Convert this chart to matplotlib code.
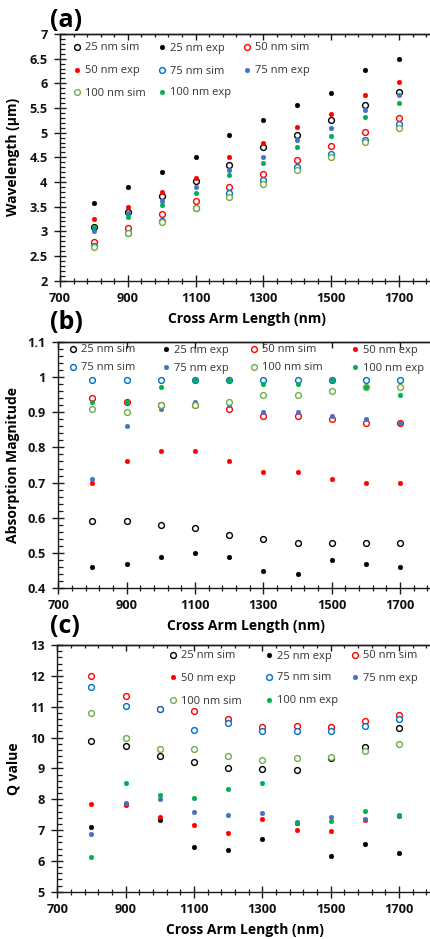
import matplotlib
matplotlib.use("Agg")
import matplotlib.pyplot as plt
from matplotlib.legend import Legend
from matplotlib.ticker import MultipleLocator, FixedLocator, NullFormatter, FuncFormatter

plt.rcParams['font.family'] = ['Open Sans', 'DejaVu Sans']

# Cross arm lengths (nm)
arm_length = [800, 900, 1000, 1100, 1200, 1300, 1400, 1500, 1600, 1700]

# (a) resonance wavelength (um)
wl_25_sim = [3.09, 3.39, 3.72, 4.03, 4.35, 4.70, 4.96, 5.26, 5.56, 5.83]
wl_25_exp = [3.58, 3.89, 4.20, 4.50, 4.96, 5.25, 5.57, 5.81, 6.27, 6.50]
wl_50_sim = [2.79, 3.06, 3.35, 3.62, 3.89, 4.16, 4.45, 4.72, 5.01, 5.29]
wl_50_exp = [3.25, 3.49, 3.80, 4.09, 4.51, 4.80, 5.11, 5.38, 5.76, 6.03]
wl_75_sim = [2.70, 2.96, 3.21, 3.48, 3.78, 4.05, 4.30, 4.57, 4.85, 5.17]
wl_75_exp = [3.01, 3.37, 3.62, 3.89, 4.24, 4.51, 4.85, 5.09, 5.46, 5.77]
wl_100_sim = [2.69, 2.96, 3.19, 3.48, 3.70, 3.97, 4.25, 4.50, 4.81, 5.09]
wl_100_exp = [3.09, 3.30, 3.53, 3.78, 4.14, 4.39, 4.71, 4.93, 5.32, 5.60]

# (b) absorption magnitude
ab_25_sim = [0.59, 0.59, 0.58, 0.57, 0.55, 0.54, 0.53, 0.53, 0.53, 0.53]
ab_25_exp = [0.46, 0.47, 0.49, 0.50, 0.49, 0.45, 0.44, 0.48, 0.47, 0.46]
ab_50_sim = [0.94, 0.93, 0.92, 0.92, 0.91, 0.89, 0.89, 0.88, 0.87, 0.87]
ab_50_exp = [0.70, 0.76, 0.79, 0.79, 0.76, 0.73, 0.73, 0.71, 0.70, 0.70]
ab_75_sim = [0.99, 0.99, 0.99, 0.99, 0.99, 0.99, 0.99, 0.99, 0.99, 0.99]
ab_75_exp = [0.71, 0.86, 0.91, 0.93, 0.92, 0.90, 0.90, 0.89, 0.88, 0.87]
ab_100_sim = [0.91, 0.90, 0.92, 0.92, 0.93, 0.95, 0.95, 0.96, 0.97, 0.97]
ab_100_exp = [0.93, 0.93, 0.97, 0.99, 0.99, 0.98, 0.98, 0.99, 0.97, 0.95]

# (c) quality factor
q_25_sim = [9.90, 9.74, 9.41, 9.19, 9.00, 8.97, 8.96, 9.35, 9.70, 10.30]
q_25_exp = [7.09, 7.85, 7.32, 6.46, 6.34, 6.71, 7.22, 6.17, 6.54, 6.27]
q_50_sim = [12.00, 11.35, 10.91, 10.87, 10.60, 10.35, 10.36, 10.35, 10.55, 10.74]
q_50_exp = [7.83, 7.82, 7.41, 7.15, 6.89, 7.37, 7.00, 6.97, 7.32, 7.45]
q_75_sim = [11.65, 11.03, 10.91, 10.24, 10.47, 10.20, 10.20, 10.20, 10.38, 10.60]
q_75_exp = [6.88, 7.89, 8.00, 7.59, 7.48, 7.55, 7.26, 7.43, 7.37, 7.48]
q_100_sim = [10.80, 9.97, 9.64, 9.64, 9.41, 9.27, 9.32, 9.36, 9.55, 9.80]
q_100_exp = [6.14, 8.51, 8.15, 8.05, 8.32, 8.54, 7.24, 7.29, 7.63, 7.46]

thicknesses = ["25", "50", "75", "100"]
sim_colors = ["#000000", "#FF0000", "#0070C0", "#70AD47"]
exp_colors = ["#000000", "#FF0000", "#4472C4", "#00B050"]

W, H = 430, 939


def fx(px):
    return px / W


def fy(py):
    return 1 - py / H


panels = [
    dict(tag="(a)", tag_y=8, ylabel="Wavelength (\u03bcm)", ylim=(2, 7), major=0.5, minor=0.1,
         sim=[wl_25_sim, wl_50_sim, wl_75_sim, wl_100_sim],
         exp=[wl_25_exp, wl_50_exp, wl_75_exp, wl_100_exp],
         box=(60, 34, 432.9, 280.7),
         leg_cols=[77, 162, 247], leg_rows=[48, 71, 93], top_minor=True),
    dict(tag="(b)", tag_y=310, ylabel="Absorption Magnitude", ylim=(0.4, 1.1), major=0.1, minor=0.02,
         sim=[ab_25_sim, ab_50_sim, ab_75_sim, ab_100_sim],
         exp=[ab_25_exp, ab_50_exp, ab_75_exp, ab_100_exp],
         box=(58.3, 341.7, 434.2, 588.3),
         leg_cols=[73, 166, 254, 355], leg_rows=[350, 368], top_minor=False),
    dict(tag="(c)", tag_y=614, ylabel="Q value", ylim=(5, 13), major=1, minor=0.2,
         sim=[q_25_sim, q_50_sim, q_75_sim, q_100_sim],
         exp=[q_25_exp, q_50_exp, q_75_exp, q_100_exp],
         box=(57.3, 645, 433.2, 891.7),
         leg_cols=[173, 269, 355], leg_rows=[656, 678, 701], top_minor=True),
]


def y_fmt(v, pos):
    v = round(v, 3)
    if abs(v - round(v)) < 1e-9:
        return f"{int(round(v))}"
    return f"{v:g}"


fig = plt.figure(figsize=(W / 100, H / 100), dpi=100)
axis_color = "#1a1a1a"
leg_fs = 8.0
handle_len = 0.7

for p in panels:
    x0, y0, x1, y1 = p["box"]
    ax = fig.add_axes([fx(x0), fy(y1), (x1 - x0) / W, (y1 - y0) / H])
    handles = []
    labels = []
    for t, s_vals, e_vals, sc, ec in zip(thicknesses, p["sim"], p["exp"], sim_colors, exp_colors):
        hs, = ax.plot(arm_length, s_vals, linestyle="none", marker="o", markersize=4.2,
                      markerfacecolor="white", markeredgecolor=sc, markeredgewidth=1.0)
        he, = ax.plot(arm_length, e_vals, linestyle="none", marker="o", markersize=3.4,
                      markerfacecolor=ec, markeredgecolor=ec, markeredgewidth=0.3)
        handles += [hs, he]
        labels += [f"{t} nm sim", f"{t} nm exp"]

    ax.set_xlim(700, 1800)
    ax.set_ylim(*p["ylim"])

    ax.spines["right"].set_visible(False)
    for side in ("left", "bottom", "top"):
        ax.spines[side].set_color(axis_color)
        ax.spines[side].set_linewidth(1.0)

    ax.xaxis.set_major_locator(MultipleLocator(200, offset=100))
    ax.xaxis.set_minor_locator(MultipleLocator(40, offset=20))
    ax.yaxis.set_major_locator(MultipleLocator(p["major"]))
    ax.yaxis.set_minor_locator(MultipleLocator(p["minor"]))
    ax.yaxis.set_major_formatter(FuncFormatter(y_fmt))

    ax.tick_params(axis="both", which="major", direction="inout", length=8, width=1.0,
                   color=axis_color, labelsize=9.2, labelcolor="#111111")
    ax.tick_params(axis="x", which="minor", direction="inout", length=4, width=0.9, color=axis_color)
    ax.tick_params(axis="y", which="minor", direction="in", length=3.5, width=0.9, color=axis_color)
    ax.tick_params(axis="x", which="major", pad=4)
    ax.tick_params(axis="y", which="major", pad=5)
    for lab in ax.get_xticklabels() + ax.get_yticklabels():
        lab.set_fontweight("bold")

    top = ax.secondary_xaxis("top")
    top.xaxis.set_major_locator(MultipleLocator(200, offset=100))
    if p["top_minor"]:
        top.xaxis.set_minor_locator(MultipleLocator(40, offset=20))
    else:
        top.xaxis.set_minor_locator(FixedLocator([]))
    top.tick_params(which="major", direction="in", length=4, width=1.0, color=axis_color,
                    labeltop=False)
    top.tick_params(which="minor", direction="in", length=2.5, width=0.9, color=axis_color)
    top.xaxis.set_major_formatter(NullFormatter())
    top.spines["top"].set_color(axis_color)
    top.spines["top"].set_linewidth(1.0)

    ax.set_xlabel("Cross Arm Length (nm)", fontsize=10, fontweight="bold", labelpad=5)
    ax.set_ylabel(p["ylabel"], fontsize=10, fontweight="bold")
    ax.yaxis.set_label_coords(fx(20), (fy(y0) + fy(y1)) / 2, transform=fig.transFigure)

    # legend entries laid out row by row on a fixed grid
    ncol = len(p["leg_cols"])
    handle_half_px = handle_len * leg_fs * 100 / 72 / 2
    for i, (h, lab) in enumerate(zip(handles, labels)):
        r, c = divmod(i, ncol)
        leg = Legend(ax, [h], [lab], loc="center left",
                     bbox_to_anchor=(fx(p["leg_cols"][c] - handle_half_px), fy(p["leg_rows"][r])),
                     bbox_transform=fig.transFigure, frameon=False, fontsize=leg_fs,
                     handlelength=handle_len, handletextpad=0.35, borderpad=0,
                     borderaxespad=0, labelcolor="#333333")
        ax.add_artist(leg)

    fig.text(fx(50), fy(p["tag_y"]), p["tag"], fontsize=18, fontweight="bold",
             ha="left", va="top")

fig.savefig("out.png", dpi=100)
